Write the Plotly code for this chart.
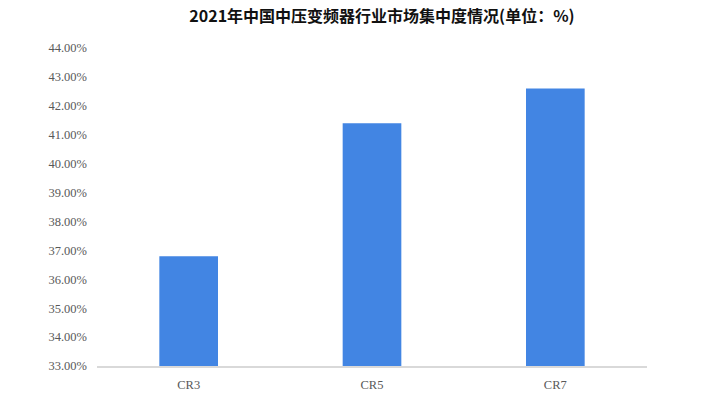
import plotly.graph_objects as go

categories = ["CR3", "CR5", "CR7"]
values = [36.8, 41.4, 42.6]
y_ticks = [33, 34, 35, 36, 37, 38, 39, 40, 41, 42, 43, 44]
y_tick_labels = [f"{v:.2f}%" for v in y_ticks]

fig = go.Figure(
    go.Bar(
        x=categories,
        y=values,
        marker=dict(color="#4285e3", line=dict(width=0)),
        hovertemplate="%{x}: %{y:.2f}%<extra></extra>",
    )
)

fig.update_layout(
    width=712,
    height=397,
    margin=dict(l=97, r=65, t=48, b=31, autoexpand=False),
    plot_bgcolor="white",
    paper_bgcolor="white",
    bargap=0.68,
    showlegend=False,
    title=dict(
        text="<b>2021年中国中压变频器行业市场集中度情况(单位：%)</b>",
        x=382 / 712,
        xanchor="center",
        xref="container",
        y=1 - 16 / 397,
        yanchor="middle",
        yref="container",
        font=dict(family="Noto Sans CJK SC, sans-serif", size=16, color="#111111"),
    ),
    xaxis=dict(
        automargin=False,
        showline=True,
        linecolor="#d9d9d9",
        linewidth=1.5,
        showgrid=False,
        ticks="",
        tickfont=dict(family="Liberation Serif, serif", size=12.5, color="#595959"),
        ticklabelstandoff=6,
    ),
    yaxis=dict(
        automargin=False,
        range=[33, 44],
        tickmode="array",
        tickvals=y_ticks,
        ticktext=y_tick_labels,
        showgrid=False,
        showline=False,
        zeroline=False,
        ticks="",
        tickfont=dict(family="Liberation Serif, serif", size=12.5, color="#595959"),
        ticklabelstandoff=9,
    ),
)

fig.write_html("out.html")
